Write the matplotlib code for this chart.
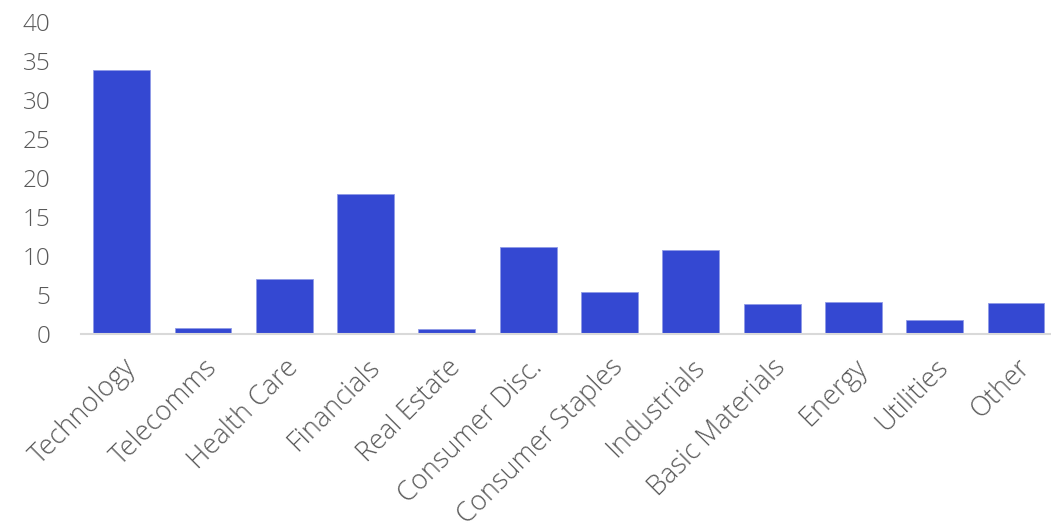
import matplotlib.pyplot as plt

# Sektory i udziały (%)
sectors = ["Technology", "Telecomms", "Health Care", "Financials", "Real Estate",
           "Consumer Disc.", "Consumer Staples", "Industrials", "Basic Materials",
           "Energy", "Utilities", "Other"]
weights = [33.9, 0.8, 7.0, 17.9, 0.6, 11.1, 5.4, 10.8, 3.85, 4.15, 1.75, 4.0]
y_ticks = [0, 5, 10, 15, 20, 25, 30, 35, 40]

plt.rcParams['font.family'] = ['Open Sans', 'DejaVu Sans']

fig = plt.figure(figsize=(10.51, 5.30), dpi=100)
ax = fig.add_axes([81 / 1051, (530 - 334) / 530, (1051 - 81) / 1051, 312 / 530])

x = range(len(sectors))
ax.bar(x, weights, width=0.7, color='#3448d2', edgecolor='#8f9ae6', linewidth=0.6)

ax.set_xlim(-0.5, 11.43)
ax.set_ylim(0, 40)
ax.set_yticks(y_ticks)
ax.set_yticklabels([str(v) for v in y_ticks], fontsize=17.5, color='#595959',
                   fontweight='light')
ax.set_xticks(list(x))
ax.set_xticklabels(sectors, rotation=45, ha='right', rotation_mode='anchor',
                   fontsize=19.5, color='#595959', fontweight='light')

for side in ['top', 'right', 'left']:
    ax.spines[side].set_visible(False)
ax.spines['bottom'].set_color('#d9d9d9')
ax.spines['bottom'].set_linewidth(1.5)
ax.tick_params(axis='both', length=0)
ax.tick_params(axis='y', pad=22)
ax.tick_params(axis='x', pad=14)

fig.savefig('out.png', dpi=100)
